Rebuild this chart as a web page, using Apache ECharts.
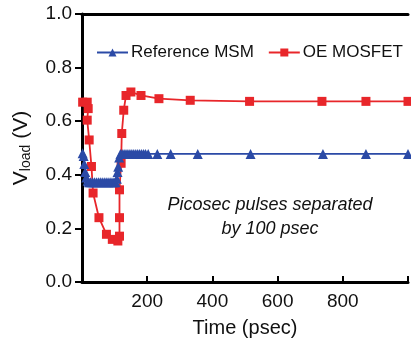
<!DOCTYPE html>
<html>
<head>
<meta charset="utf-8">
<script src="https://cdn.jsdelivr.net/npm/echarts@6/dist/echarts.min.js"></script>
<style>
  html, body { margin: 0; padding: 0; background: #fff; }
  #chart { width: 411px; height: 343px; }
</style>
</head>
<body>
<div id="chart"></div>
<script>
// Reference MSM (blue triangles): [time psec, V]
const msmData = [
  [2, 0.48], [5, 0.47], [7, 0.44], [10, 0.41], [13, 0.39], [17, 0.378], [21, 0.372],
  [26, 0.372], [32, 0.372], [38, 0.372], [44, 0.372], [50, 0.372], [56, 0.372],
  [62, 0.372], [68, 0.372], [74, 0.372], [80, 0.372], [86, 0.372], [92, 0.372],
  [98, 0.372], [103, 0.372], [107, 0.385], [109, 0.41], [111, 0.43], [114, 0.465],
  [118, 0.478], [123, 0.478], [129, 0.478], [135, 0.478], [141, 0.478], [147, 0.478],
  [153, 0.478], [159, 0.478], [165, 0.478], [171, 0.478], [177, 0.478], [183, 0.478],
  [189, 0.478], [195, 0.478], [203, 0.478], [231, 0.478], [272, 0.478], [355, 0.478],
  [517, 0.478], [739, 0.478], [871, 0.478], [1000, 0.478]
]

// OE MOSFET (red squares)
const mosfetData = [
  [2, 0.671], [16, 0.671], [19, 0.647], [16, 0.604], [22, 0.53], [29, 0.431],
  [34, 0.332], [52, 0.24], [75, 0.178], [93, 0.159], [110, 0.153], [115, 0.171],
  [115, 0.24], [115, 0.344], [120, 0.443], [122, 0.554], [128, 0.641], [135, 0.696],
  [150, 0.709], [181, 0.696], [236, 0.684], [332, 0.678], [514, 0.674], [736, 0.674],
  [871, 0.674], [1000, 0.674]
]

const xTicks = [0, 200, 400, 600, 800, 1000]
const yTicks = [0, 0.2, 0.4, 0.6, 0.8, 1.0]

const chart = echarts.init(document.getElementById('chart'))

const font = 'Liberation Sans, Arial, sans-serif'

chart.setOption({
  animation: false,
  textStyle: { fontFamily: font },
  grid: { left: 82, top: 14, width: 330, height: 269 },
  legend: {
    orient: 'horizontal',
    left: 91,
    top: 39,
    width: 330,
    itemWidth: 31,
    itemHeight: 10,
    itemGap: 14,
    textStyle: { fontSize: 17, color: '#111', fontFamily: font, padding: [0, 0, 0, -2] },
    data: ['Reference MSM', 'OE MOSFET']
  },
  xAxis: [{
    type: 'value',
    min: xTicks[0],
    max: xTicks[xTicks.length - 1],
    interval: 200,
    name: 'Time (psec)',
    nameLocation: 'middle',
    nameGap: 36,
    nameTextStyle: { fontSize: 20, color: '#111' },
    axisLine: { lineStyle: { color: '#000', width: 3 } },
    axisTick: { inside: true, length: 6, lineStyle: { color: '#000', width: 2 } },
    axisLabel: {
      fontSize: 19, color: '#111', margin: 10,
      formatter: v => (v === 0 || v === 1000) ? '' : String(v)
    },
    splitLine: { show: false }
  }, {
    type: 'value',
    position: 'top',
    min: 0,
    max: 1000,
    axisLine: { show: true, lineStyle: { color: '#000', width: 3 } },
    axisTick: { show: false },
    axisLabel: { show: false },
    splitLine: { show: false }
  }],
  yAxis: {
    type: 'value',
    min: yTicks[0],
    max: yTicks[yTicks.length - 1],
    interval: 0.2,
    name: '{a|V}{b|load}{a| (V)}',
    nameLocation: 'middle',
    nameGap: 48,
    nameTextStyle: {
      rich: {
        a: { fontSize: 21, color: '#111', fontFamily: font, lineHeight: 26 },
        b: { fontSize: 14, color: '#111', fontFamily: font, padding: [10, 0, 0, 0] }
      }
    },
    axisLine: { show: true, lineStyle: { color: '#000', width: 3 } },
    axisTick: { show: true, inside: false, length: 7, lineStyle: { color: '#000', width: 2 } },
    axisLabel: { fontSize: 19, color: '#111', margin: 10, formatter: v => v.toFixed(1) },
    splitLine: { show: false }
  },
  graphic: [{
    type: 'text',
    x: 270,
    y: 193,
    style: {
      text: 'Picosec pulses separated\nby 100 psec',
      font: 'italic 18px ' + font,
      fill: '#111',
      align: 'center',
      lineHeight: 24
    }
  }],
  series: [{
    name: 'Reference MSM',
    type: 'line',
    data: msmData,
    symbol: 'triangle',
    symbolSize: 10,
    color: '#2b4aa6',
    lineStyle: { width: 1.8 },
    z: 3
  }, {
    name: 'OE MOSFET',
    type: 'line',
    data: mosfetData,
    symbol: 'rect',
    symbolSize: 9,
    color: '#e8262a',
    lineStyle: { width: 1.8 },
    z: 2
  }]
})
</script>
</body>
</html>
